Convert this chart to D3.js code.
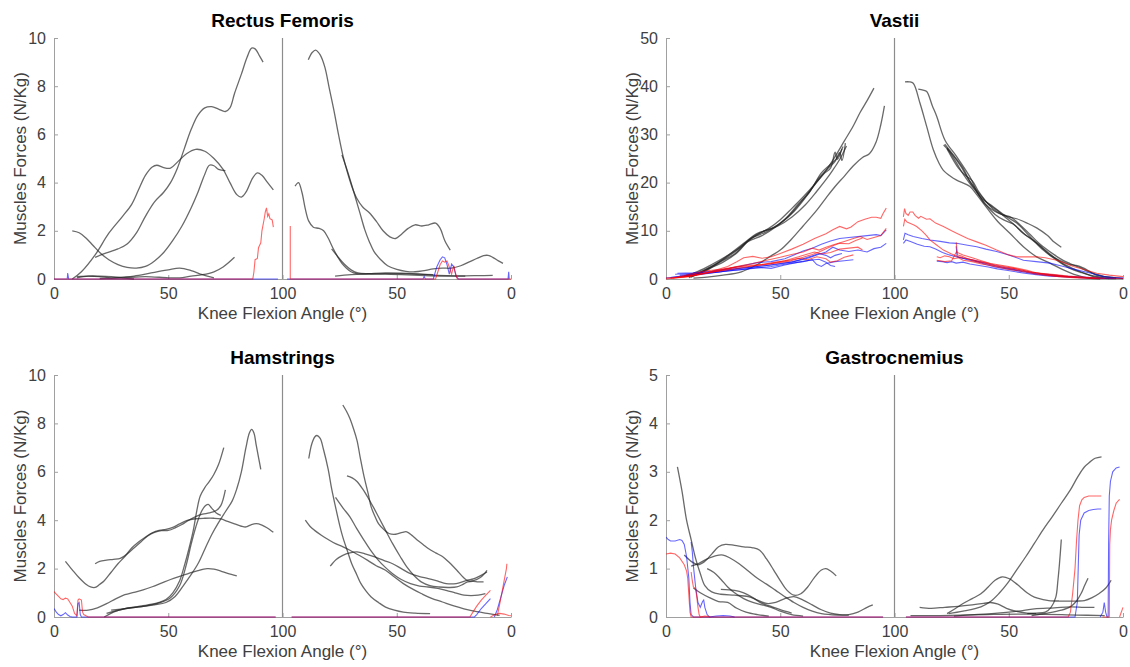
<!DOCTYPE html>
<html>
<head>
<meta charset="utf-8">
<script src="https://cdn.jsdelivr.net/npm/d3@7"></script>
<style>
  html, body { margin: 0; padding: 0; background: #fff; }
  svg { display: block; font-family: "Liberation Sans", Arial, Helvetica, sans-serif; }
</style>
</head>
<body>
<svg id="chart" width="1130" height="667"></svg>
<script>
// Knee flexion angle axis: left half = flexion (0 -> 100), right half = extension (100 -> 0)
const xTicks = [0, 50, 100, 150, 200];
const xTickLabels = ["0", "50", "100", "50", "0"];
const xLabel = "Knee Flexion Angle (°)";
const yLabel = "Muscles Forces (N/Kg)";

const titles = ["Rectus Femoris", "Vastii", "Hamstrings", "Gastrocnemius"];
const yMax = [10, 50, 10, 5];
const yTicks = [
  [0, 2, 4, 6, 8, 10],
  [0, 10, 20, 30, 40, 50],
  [0, 2, 4, 6, 8, 10],
  [0, 1, 2, 3, 4, 5]
];

// Each trace: side "L" (flexion, left half) or "R" (extension, right half); points are [angle, force]
const rectusBlack = [
  {side: "L", pts: [[8,0],[12,0.3],[18,1.0],[24,1.9],[30,2.6],[34,3.1],[37,3.7],[40,4.3],[43,4.65],[45,4.72],[48,4.62],[51,4.6],[54,4.85],[58,5.2],[62,5.38],[66,5.3],[70,5.0],[74,4.55],[77,4.0],[80,3.5],[82,3.4],[84,3.6],[87,4.2],[89,4.4],[91,4.3],[93.5,4.0],[96,3.7]]},
  {side: "L", pts: [[18,0.9],[22,1.05],[28,1.25],[32,1.45],[36,1.9],[40,2.6],[44,3.2],[48,3.6],[51,4.0],[54,4.6],[57,5.4],[60,6.2],[63,6.8],[66,7.1],[69,7.15],[72,7.05],[75,6.95],[77,7.1],[79,7.7],[82,8.5],[84.5,9.2],[86.5,9.58],[88,9.55],[90,9.25],[91.5,9.0]]},
  {side: "L", pts: [[8,2.0],[11,1.92],[14,1.7],[17,1.4],[20,1.1],[24,0.8],[28,0.6],[32,0.48],[36,0.45],[40,0.52],[44,0.75],[48,1.1],[52,1.6],[56,2.2],[60,2.95],[63,3.6],[66,4.35],[68,4.72],[70,4.7],[72,4.55],[75,4.5]]},
  {side: "L", pts: [[10,0.1],[15,0.12],[20,0.1],[25,0.05],[30,0.08],[35,0.12],[40,0.2],[45,0.3],[50,0.38],[55,0.45],[60,0.35],[65,0.18],[70,0.05]]},
  {side: "L", pts: [[20,0.02],[30,0.05],[40,0.1],[50,0.05],[55,0.05],[60,0.12],[65,0.18],[70,0.3],[74,0.5],[79,0.9]]},
  {side: "L", pts: [[10,0.05],[15,0.12],[20,0.12],[25,0.1],[30,0.05],[35,0.0]]},
  {side: "R", pts: [[88.7,9.1],[87,9.4],[85.5,9.5],[83.5,9.3],[81.5,8.8],[79.5,7.9],[77.5,7.0],[75.5,6.0],[73.5,5.1],[71.5,4.4],[69.5,3.8],[67.5,3.35],[65,3.0],[62,2.75],[59,2.4],[56,2.0],[53,1.75],[50.5,1.68],[48,1.85],[45,2.1],[42,2.25],[39,2.2],[36,2.25],[33,2.32],[31,2.1],[29,1.6],[26.6,1.2]]},
  {side: "R", pts: [[74,5.15],[72,4.6],[70,4.0],[68,3.35],[66,2.7],[64,2.05],[62,1.55],[60,1.15],[57,0.8],[54,0.55],[50,0.4],[46,0.32],[42,0.3],[38,0.35],[34,0.42],[30,0.45],[26,0.45],[22,0.55],[18,0.72],[15,0.85],[12,0.97],[10,0.98],[8,0.9],[5.5,0.75],[3.5,0.65]]},
  {side: "R", pts: [[94.5,3.85],[93,4.0],[91.5,3.6],[90,2.9],[88.5,2.4],[86.5,2.15],[84,2.1],[82,2.0],[80,1.7],[78,1.3],[76,0.95],[74,0.65],[72,0.45],[70,0.3],[67.6,0.22],[62,0.2],[55,0.22],[48,0.22],[40,0.2],[34,0.18]]},
  {side: "R", pts: [[78.5,1.25],[76,0.95],[73,0.62],[70,0.38],[67,0.25],[62,0.22],[55,0.2],[48,0.18],[40,0.15],[30,0.12],[20,0.12]]},
  {side: "R", pts: [[77,0.12],[70,0.18],[62,0.22],[55,0.25],[48,0.24],[40,0.2],[32,0.15],[24,0.13],[14,0.14],[8,0.15]]}
];
const rectusBlue = [
  {side: "L", pts: [[0,0],[5.8,0],[6,0.25],[6.4,0],[98,0]]},
  {side: "R", pts: [[98,0],[38.5,0],[38,0.1],[37.5,0],[34,0],[32.5,0.5],[31,0.8],[30,0.92],[29,0.88],[28,0.6],[27,0.2],[26.5,0.4],[26,0.62],[25,0.5],[24,0.1],[23,0],[1.3,0],[1,0.3],[0.8,0]]}
];
const rectusRed = [
  {side: "L", pts: [[0,0],[87,0],[87.5,0.3],[88,0.8],[89,0.85],[89.5,1.3],[90.5,1.5],[91,2.0],[92,2.5],[92.5,2.8],[93,2.95],[93.5,2.6],[94,2.7],[94.5,2.5],[95.5,2.45],[96,2.15]]},
  {side: "R", pts: [[96.6,2.2],[96.6,0],[33,0],[32,0.3],[31,0.6],[30,0.75],[29,0.7],[28,0.75],[27,0.5],[26,0.2],[25.5,0.4],[25,0.55],[24.5,0.3],[23.5,0],[0,0]]}
];

const vastiiBlack = [
  {side: "L", pts: [[10,0.5],[15,1.3],[20,2.6],[25,4.0],[30,5.6],[35,7.6],[40,9.2],[45,10.5],[50,12.3],[55,14.6],[60,17.0],[65,19.6],[70,22.5],[74,25.4],[78,28.6],[82,31.8],[85,34.6],[88,37.0],[91,39.6]]},
  {side: "L", pts: [[12,0.2],[18,0.4],[25,0.8],[33,1.5],[40,3.0],[46,4.8],[50,6.0],[55,8.3],[60,11.0],[66,14.3],[70,16.8],[74,19.2],[78,21.3],[82,23.5],[86,25.2],[89,26.0],[92,28.5],[94,32.0],[95.6,35.9]]},
  {side: "L", pts: [[8,0.6],[14,1.6],[20,3.0],[26,4.6],[32,6.4],[38,8.6],[44,9.8],[50,11.5],[56,14.0],[62,17.5],[67,21.0],[71,23.0],[74,24.4],[76,26.2],[77,24.6],[78.5,28.2]]},
  {side: "L", pts: [[9,0.5],[15,1.5],[22,3.2],[28,5.2],[34,7.4],[40,9.5],[46,10.4],[52,12.4],[58,15.6],[63,18.2],[68,22.0],[72,23.8],[75,25.2],[77.5,27.5]]},
  {side: "L", pts: [[10,0.3],[17,1.6],[24,3.6],[30,5.2],[36,7.8],[42,9.0],[48,10.8],[54,13.2],[60,16.5],[65,19.5],[69,21.8],[72,23.0],[74,26.3],[75,24.8],[77,27.0]]},
  {side: "L", pts: [[11,0.4],[18,2.0],[25,3.5],[31,5.4],[37,8.4],[43,10.0],[49,11.0],[55,12.8],[61,15.4],[66,18.2],[70,20.6],[73,22.6],[76,24.8],[79,27.6]]},
  {side: "R", pts: [[95.4,40.9],[93.5,40.9],[91.8,40.6],[88.8,36.4],[85.9,31.6],[83,26.8],[80.5,24.0],[78.7,22.6],[75.5,21.3],[72.8,20.5],[67,19.2],[64,17.5],[61.1,15.7],[55.3,12.2],[49.5,9.5],[43.6,6.7],[37.8,4.6],[32,3.3],[26.1,1.9],[20.3,0.8],[14.4,0.15],[10,0.05]]},
  {side: "R", pts: [[89.6,39.4],[87.5,39.2],[85.9,38.9],[83.5,36],[81.5,33.7],[77.9,28.8],[72.8,25.4],[67,21.2],[62.6,17.1],[56.8,15.0],[50.9,12.9],[46.5,11.6],[40.7,8.8],[34.9,6.0],[29,3.9],[23.2,2.2],[18,1.3],[14.4,0.8],[10,0.4],[6,0.1]]},
  {side: "R", pts: [[78,28],[74,25.6],[70,23.0],[67,20.2],[63,17.4],[60.7,15.7],[56,14.0],[51,13.0],[46.5,12.5],[42,11.6],[37.8,10.6],[33,9.0],[30,7.6],[27,6.6]]},
  {side: "R", pts: [[77,27.2],[73,24.2],[70,21.8],[67,19.8],[64,18.0],[60,15.4],[56,13.4],[52,12.2],[48,11.4],[44,9.6],[40,8.2],[36,6.7],[32,5.0],[28,3.9],[23.2,3.0],[20,2.8],[17.4,2.3],[14,1.4],[11.6,0.8],[8,0.5],[4,0.3],[0,0.1]]},
  {side: "R", pts: [[78.5,27.8],[75,26.0],[71,23.4],[68,21.0],[65,19.0],[61,16.6],[57,14.6],[53,13.4],[49,12.8],[45,11.2],[41,9.4],[37,7.5],[34.9,6.7],[30,5.0],[26,3.8],[23.2,3.2],[19,2.4],[15,1.5],[11,0.9],[7,0.4],[3,0.2]]},
  {side: "R", pts: [[77,27.0],[72,23.0],[69,21.5],[66,20.4],[63,18.0],[59,15.6],[55,14.2],[51,12.6],[47,11.0],[43,9.3],[39,8.0],[35,6.4],[31,4.8],[27,3.4],[23,2.4],[18,1.4],[13,0.5],[9,0.2],[3,0.1]]}
];
const vastiiBlue = [
  {side: "L", pts: [[5,1.2],[12,1.3],[20,1.6],[28,2.2],[34,2.8],[40,3.4],[46,3.6],[52,4.2],[56,5.0],[60,5.8],[64,6.4],[68,7.2],[72,7.9],[76,8.4],[80,8.6],[84,8.8],[88,9.0],[92,9.2],[94,9.0],[96.4,10.2]]},
  {side: "L", pts: [[4,1.0],[12,1.2],[20,1.5],[28,2.0],[36,2.4],[44,2.8],[50,3.2],[56,3.6],[62,4.3],[66,5.0],[70,5.6],[73,6.6],[76,6.0],[80,5.7],[84,6.0],[88,5.6],[91,6.3],[94,6.6],[96.4,7.4]]},
  {side: "L", pts: [[6,0.8],[14,1.1],[22,1.4],[30,1.8],[38,2.2],[46,2.6],[54,3.2],[60,3.6],[64,4.0],[66,3.0],[68,2.6],[70,3.2],[74,3.6],[78,3.8],[82,4.0]]},
  {side: "L", pts: [[0,0.2],[8,0.6],[16,1.0],[24,1.5],[32,2.2],[40,2.6],[48,3.0],[55,3.5],[60,4.2],[64,4.8],[67,5.3],[70,4.9],[72,4.4],[74,4.9],[77,5.3]]},
  {side: "L", pts: [[2,0.3],[10,0.8],[18,1.2],[26,1.6],[34,2.0],[40,2.4],[46,2.2],[52,2.9],[58,3.5],[63,3.9],[67,4.1],[70,3.5],[72,2.8],[74,2.6]]},
  {side: "R", pts: [[96.1,8.1],[95.4,9.5],[94,9.2],[91.8,8.8],[88,8.4],[84.5,8.1],[80,7.8],[76,7.5],[72.8,7.4],[68,7.0],[64,6.7],[60,6.2],[55.3,5.7],[50,5.0],[43.6,3.9],[38,3.6],[32,3.3],[26,2.6],[20.3,1.9],[14,1.2],[8.6,0.5],[4,0.3],[0,0.2]]},
  {side: "R", pts: [[96.1,7.4],[95,8.1],[93,7.8],[90,7.2],[87,6.8],[84.5,6.7],[82,6.2],[79,5.5],[76,5.0],[73,4.6],[70,4.3],[66,4.0],[62,3.5],[58,3.0],[54,2.6],[50,2.2],[46,1.8],[42,1.5],[38,1.2],[32,0.9],[26,0.6],[18,0.4],[10,0.2],[0,0.1]]},
  {side: "R", pts: [[81.5,3.7],[79,3.6],[77,3.4],[75,3.6],[73,3.3],[70,3.5],[67,3.1],[63,2.8],[59,2.5],[55,2.1],[51,1.8],[47,1.5],[43,1.2],[38,0.9],[32,0.6],[24,0.4],[16,0.2],[8,0.1]]},
  {side: "R", pts: [[73,6.8],[72.6,4.6],[71,4.4],[68,4.0],[64,3.6],[60,3.0],[56,2.5],[52,2.2],[48,1.9],[44,1.5],[40,1.2],[35,0.9],[28,0.6],[20,0.3],[12,0.15],[4,0.1]]}
];
const vastiiRed = [
  {side: "L", pts: [[0,0.2],[8,0.4],[14,0.9],[20,1.6],[27,2.6],[31,3.6],[34,4.4],[38,4.7],[42,4.3],[46,4.6],[50,5.3],[55,6.2],[60,7.2],[65,8.4],[70,9.4],[73,10.2],[76,10.9],[79,10.4],[81,10.8],[84,11.9],[87,12.4],[90,12.8],[92,12.8],[94,12.6],[95,13.6],[96.4,14.7]]},
  {side: "L", pts: [[2,0.1],[10,0.5],[18,1.2],[25,1.9],[32,2.7],[38,3.2],[44,3.9],[50,4.5],[55,5.1],[60,5.6],[64,6.4],[67,6.0],[70,6.6],[74,7.2],[78,7.8],[82,8.4],[85,8.8],[88,8.2],[91,8.6],[94,9.0],[96.4,10.5]]},
  {side: "L", pts: [[5,0.3],[12,0.8],[20,1.5],[28,2.2],[35,2.8],[42,3.0],[48,3.5],[54,3.9],[58,4.3],[62,4.0],[66,4.6],[70,4.2],[72,3.5],[75,3.8],[78,4.5],[82,5.0]]},
  {side: "L", pts: [[0,0],[10,0.6],[18,1.3],[26,1.8],[34,2.4],[40,2.9],[46,3.2],[52,3.8],[58,4.6],[62,5.2],[65,5.6],[68,5.2],[72,5.5],[76,6.2],[80,6.4],[84,6.6],[86,6.0]]},
  {side: "L", pts: [[3,0.2],[10,0.9],[18,1.7],[24,2.0],[30,2.5],[36,2.6],[42,2.9],[48,3.3],[54,3.7],[60,4.5],[64,5.1],[67,5.6],[70,6.3],[73,6.9],[76,7.4],[80,7.3],[83,8.0],[86,8.5]]},
  {side: "R", pts: [[96.1,12.9],[95.6,14.6],[95.0,13.6],[94,13.2],[93.2,13.9],[92,13.9],[91,13.2],[89.5,12.6],[88.5,13.0],[86,12.4],[84.5,12.5],[82,11.6],[78.6,10.9],[75,10.0],[72.8,9.5],[68,8.4],[64,7.7],[60,7.0],[55.3,6.0],[50,5.0],[46.5,4.6],[42,4.6],[37.8,4.6],[34,4.4],[29,3.9],[25,3.2],[21.7,2.6],[16,1.8],[11.5,1.2],[6,0.8],[0,0.5]]},
  {side: "R", pts: [[96.1,10.9],[95.5,12.4],[94.5,11.8],[93,11.5],[91.5,11.2],[90.3,10.9],[88,10.0],[86,9.0],[84.5,8.1],[82,7.2],[78.6,6.0],[75,5.2],[72,4.6],[68,4.2],[64,3.6],[60,3.2],[56,2.7],[52,2.4],[48,2.2],[44,1.8],[40,1.4],[36,1.2],[30,0.9],[24,0.6],[18,0.4],[10,0.2],[0,0.1]]},
  {side: "R", pts: [[81.5,4.6],[80,4.4],[78,4.8],[76,4.6],[74,4.2],[72,4.4],[70,3.9],[66,3.6],[62,3.1],[58,2.8],[54,2.4],[50,2.0],[46,1.7],[42,1.4],[38,1.0],[32,0.7],[26,0.5],[20,0.3],[12,0.1]]},
  {side: "R", pts: [[81.5,3.9],[78,3.6],[75,3.8],[72.8,5.7],[72.3,5.0],[71,4.8],[68,4.2],[64,3.8],[60,3.4],[56,2.9],[52,2.6],[48,2.2],[44,1.8],[40,1.4],[35,1.1],[30,0.8],[24,0.5],[16,0.3],[8,0.1]]},
  {side: "R", pts: [[73,7.6],[72.5,5.5],[70,5.0],[66,4.4],[62,3.8],[58,3.2],[54,2.9],[50,2.6],[46,2.2],[42,1.8],[38,1.3],[34,0.9],[28,0.5],[20,0.2],[10,0.05]]}
];

const hamBlack = [
  {side: "L", pts: [[5,2.3],[8,1.95],[11,1.62],[14,1.35],[16,1.24],[18,1.22],[20,1.35],[22,1.5],[25,1.85],[28,2.2],[31,2.5],[34,2.85],[37,3.1],[40,3.3],[43,3.48],[46,3.58],[49,3.62],[52,3.7],[55,3.85],[58,3.98],[62,4.06],[66,4.08],[70,4.08],[73,4.05],[76,3.95],[79,3.85],[82,3.75],[84,3.72],[86,3.8],[88.5,3.86],[91,3.8],[93,3.7],[96,3.5]]},
  {side: "L", pts: [[18,2.2],[20,2.3],[23,2.35],[26,2.38],[29,2.42],[32,2.6],[35,2.85],[38,3.1],[41,3.35],[44,3.5],[47,3.57],[50,3.58],[53,3.68],[56,3.82],[59,4.0],[62,4.15],[65,4.25],[68,4.3],[71,4.4],[73,4.6],[75,5.25]]},
  {side: "L", pts: [[11,0.28],[15,0.28],[19,0.38],[23,0.55],[27,0.75],[31,0.92],[35,1.02],[39,1.12],[43,1.25],[47,1.4],[51,1.55],[55,1.68],[59,1.8],[63,1.92],[67,2.0],[70,1.98],[73,1.9],[76,1.8],[80,1.7]]},
  {side: "L", pts: [[22,0],[26,0.2],[31,0.35],[36,0.42],[41,0.5],[46,0.6],[49,0.72],[52,1.0],[55,1.5],[57,2.1],[59,2.8],[61,3.6],[62.5,4.4],[64,5.0],[66,5.35],[68,5.6],[70,5.9],[72,6.3],[74.3,7.0]]},
  {side: "L", pts: [[23,0.15],[30,0.32],[37,0.42],[44,0.5],[49,0.6],[53,0.85],[57,1.35],[60,1.75],[63,2.2],[66,2.8],[69,3.4],[72,3.9],[75,4.35],[78,4.8],[80,5.3],[82,6.0],[84,7.0],[85.5,7.6],[86.5,7.75],[87.5,7.6],[88.5,7.1],[89.5,6.6],[90.5,6.1]]},
  {side: "L", pts: [[25,0.28],[32,0.36],[40,0.45],[46,0.58],[51,0.8],[55,1.3],[58,2.2],[60,3.0],[62,3.7],[64,4.25],[66,4.58],[67.5,4.65],[69,4.5],[71,4.3],[73,4.2]]},
  {side: "R", pts: [[88.5,6.55],[87.2,7.15],[85.8,7.45],[84.9,7.5],[83.5,7.38],[82,6.9],[80,6.1],[78.5,5.3],[76.8,4.55],[75,3.8],[73.6,3.3],[71.5,2.7],[69.7,2.2],[67.5,1.75],[65.8,1.4],[63.5,1.08],[61.2,0.83],[58,0.6],[54.9,0.41],[51,0.28],[47.1,0.2],[42,0.16],[35.4,0.14]]},
  {side: "R", pts: [[73.6,8.76],[72,8.5],[70.5,8.2],[69,7.8],[67.4,7.3],[66,6.6],[64.3,5.8],[62.5,5.1],[61.2,4.55],[59.5,4.15],[58,3.86],[55.5,3.6],[53.4,3.45],[50.5,3.42],[47.5,3.5],[45.6,3.52],[43,3.35],[40.9,3.17],[38.5,3.0],[36.2,2.83],[33,2.65],[30,2.5],[27,2.25],[23.7,1.93],[21,1.65],[19,1.5],[16.5,1.5],[13.6,1.62],[12,1.75],[10.5,1.93]]},
  {side: "R", pts: [[71.8,5.83],[69.5,5.75],[67.4,5.6],[65,5.3],[62.7,4.95],[60,4.5],[58,4.14],[55,3.6],[51.8,3.03],[48.5,2.5],[45.6,2.07],[42.5,1.72],[39.3,1.45],[35.5,1.3],[31.5,1.24],[27.5,1.22],[23.7,1.24],[21,1.35],[19,1.45],[16.5,1.47],[14.4,1.45],[12,1.45]]},
  {side: "R", pts: [[76.8,4.94],[73.5,4.5],[70.5,4.14],[67.5,3.65],[64.3,3.17],[61,2.7],[58,2.34],[55,2.05],[51.8,1.79],[48,1.55],[44,1.38],[40,1.28],[36.2,1.24],[32,1.18],[28.4,1.1],[24.5,1.0],[20.6,0.9],[17.5,0.88],[14.4,0.9],[11.2,0.97]]},
  {side: "R", pts: [[90,4.0],[88,3.75],[86.1,3.59],[83,3.38],[80,3.2],[76.8,3.03],[73.5,2.9],[70.5,2.76],[66.5,2.55],[62.7,2.34],[59,2.12],[54.9,1.93],[51,1.65],[47.1,1.38],[43,1.15],[39.3,0.97],[35,0.78],[30,0.62],[25,0.46],[20.6,0.34],[15,0.22],[9.7,0.14],[5,0.07]]},
  {side: "R", pts: [[79.1,2.1],[76.5,2.38],[73.6,2.55],[70.5,2.65],[67.4,2.69],[63.5,2.6],[59.6,2.48],[55.5,2.33],[51.8,2.2],[48,2.0],[44,1.79],[40,1.67],[36.2,1.59],[32,1.48],[28.4,1.38],[24,1.38],[19,1.52],[16.5,1.58],[14.4,1.66],[12.5,1.75],[10.5,1.86]]}
];
const hamBlue = [
  {side: "L", pts: [[0,0.35],[1,0.2],[2,0.1],[3,0.05],[4,0.1],[5,0.18],[6,0.08],[7,0.02],[8,0],[10,0],[10.5,0.55],[11,0.6],[11.5,0.1],[12,0],[97,0]]},
  {side: "R", pts: [[96,0],[16,0],[15,0.1],[13,0.35],[11,0.55],[9,0.76]]},
  {side: "R", pts: [[7.3,0],[6,0.3],[4.5,0.8],[3,1.3],[1.6,1.66]]}
];
const hamRed = [
  {side: "L", pts: [[0,1.05],[1,0.95],[2,0.85],[3,0.75],[4,0.72],[5,0.78],[6,0.75],[7,0.6],[8,0.45],[9,0.15],[10,0.05],[10.5,0.7],[11,0.75],[12,0.7],[12.5,0.2],[13,0.1],[14,0.05],[15,0],[97,0]]},
  {side: "R", pts: [[96,0],[18,0],[17,0.15],[15,0.45],[13,0.7],[11,0.9],[9,1.1]]},
  {side: "R", pts: [[6,0.05],[5,0.5],[4,1.0],[3,1.5],[2,2.0],[1.8,2.2]]},
  {side: "R", pts: [[9,0],[7,0.1],[5,0.15],[3,0.12],[1,0.06],[0,0.05]]}
];

const gastroBlack = [
  {side: "L", pts: [[5,3.1],[7,2.6],[9,2.0],[11,1.6],[13,1.2],[15,0.9],[17,0.65],[20,0.52],[24,0.47],[30,0.45],[36,0.42],[40,0.35],[44,0.28],[48,0.3],[52,0.38],[56,0.42],[60,0.35],[64,0.25],[68,0.15],[72,0.08],[76,0.05],[80,0.05],[84,0.1],[88,0.2],[90.5,0.25]]},
  {side: "L", pts: [[8,1.28],[11,1.15],[14,1.08],[17,1.15],[20,1.3],[23,1.45],[26,1.5],[30,1.48],[34,1.45],[38,1.43],[41,1.38],[44,1.2],[47,0.98],[50,0.75],[53,0.55],[56,0.45],[59,0.48],[62,0.62],[65,0.82],[68,0.97],[70,1.0],[72,0.95],[74.5,0.85]]},
  {side: "L", pts: [[11,1.05],[14,1.1],[18,1.2],[22,1.27],[25,1.28],[28,1.22],[32,1.1],[36,0.95],[40,0.8],[44,0.68],[48,0.55],[52,0.42],[56,0.3],[60,0.2],[64,0.12],[68,0.07],[75,0.04],[80,0.04]]},
  {side: "L", pts: [[18,1.0],[21,0.92],[24,0.78],[27,0.62],[30,0.5],[34,0.38],[38,0.3],[42,0.25],[46,0.2],[50,0.12],[55,0.05],[60,0.02]]},
  {side: "L", pts: [[12,0.6],[15,0.5],[19,0.4],[23,0.32],[27,0.3],[31,0.18],[35,0.1],[40,0.05],[45,0.02]]},
  {side: "L", pts: [[24,0.57],[30,0.55],[34,0.5],[38,0.4],[42,0.28],[46,0.22],[50,0.15],[55,0.08]]},
  {side: "R", pts: [[76.3,0.07],[70,0.12],[62.2,0.21],[58,0.32],[54.4,0.48],[50.5,0.7],[46.6,0.97],[42.5,1.25],[38.8,1.52],[35,1.8],[31,2.07],[27,2.35],[23.1,2.62],[20,2.88],[16.9,3.1],[14.5,3.2],[12.2,3.28],[9.4,3.31]]},
  {side: "R", pts: [[77,0.07],[73.5,0.17],[70,0.28],[66,0.38],[62.2,0.48],[59,0.62],[56,0.76],[52.8,0.83],[49.7,0.79],[47,0.7],[45,0.62],[42,0.5],[38.8,0.41],[35,0.36],[32.5,0.34],[28,0.33],[23.1,0.33],[20,0.33],[16.9,0.34],[13.5,0.4],[10.6,0.48],[7.5,0.6],[5.2,0.76]]},
  {side: "R", pts: [[41.9,0.07],[38,0.08],[34,0.1],[31.5,0.2],[29.4,0.41],[28.5,0.75],[27.8,1.1],[27,1.6]]},
  {side: "R", pts: [[40,0.03],[33,0.08],[27,0.14],[23.1,0.21],[20.5,0.32],[18.4,0.48],[16.8,0.65],[15.3,0.8]]},
  {side: "R", pts: [[89,0.2],[84,0.18],[78,0.2],[72,0.22],[66,0.25],[61,0.28],[58,0.3],[55,0.27],[51,0.18],[47,0.12],[42,0.08],[38,0.07]]},
  {side: "R", pts: [[74,0.02],[65,0.05],[55,0.08],[46,0.12],[38.8,0.17],[30,0.19],[23,0.21],[17,0.2],[12.5,0.2]]},
  {side: "R", pts: [[93,0.03],[80,0.03],[60,0.05],[40,0.06],[20,0.04],[8,0.03]]}
];
const gastroBlue = [
  {side: "L", pts: [[0,1.65],[1,1.6],[2,1.57],[4,1.57],[6,1.6],[7,1.58],[8,1.5],[9,1.25],[10,0.8],[10.5,0.3],[11,0.05],[12,0],[95,0]]},
  {side: "L", pts: [[11,1.55],[11.5,1.35],[12,1.05],[13,0.6],[14,0.3],[15,0.2],[16,0.32],[16.5,0.35],[17,0.2],[18,0.05],[19,0],[22,0.02],[25,0.03],[28,0.02],[30,0]]},
  {side: "R", pts: [[95,0],[21,0],[20,0.3],[19.6,1.0],[19.2,1.7],[18.5,2.0],[17,2.15],[15,2.2],[13,2.22],[11,2.23],[9.5,2.23]]},
  {side: "R", pts: [[10,0],[8.8,0.1],[8.2,0.3],[7.6,0.1],[7,0],[6.5,0],[6.3,1.5],[6,2.5],[5.5,2.8],[4.5,3.0],[3,3.08],[1.5,3.1]]}
];
const gastroRed = [
  {side: "L", pts: [[0,1.3],[2,1.32],[4,1.3],[6,1.22],[8,1.08],[9,0.95],[9.5,0.8],[10,0.45],[10.5,0.1],[11,0],[95,0]]},
  {side: "L", pts: [[11,0.93],[11.5,0.75],[12,0.62],[13,0.58],[13.5,0.4],[14,0.2],[14.5,0.05],[15,0],[17,0.02],[19,0.01]]},
  {side: "R", pts: [[95,0],[24,0],[23,0.1],[22,0.5],[21,1.0],[20.3,1.6],[19.7,2.0],[19,2.3],[18,2.42],[17,2.47],[15,2.5],[13,2.5],[11,2.5],[9.5,2.5]]},
  {side: "R", pts: [[9,0],[6,0],[5.8,1.5],[5.5,1.8],[5,2.0],[4,2.2],[3,2.35],[1.5,2.43]]},
  {side: "R", pts: [[1.5,0],[0,0.2]]}
];

const panelBlack = [rectusBlack, vastiiBlack, hamBlack, gastroBlack];
const panelBlue = [rectusBlue, vastiiBlue, hamBlue, gastroBlue];
const panelRed = [rectusRed, vastiiRed, hamRed, gastroRed];

// Plot frames (left, right, top, bottom) for the 2x2 grid
const frames = [
  {x0: 54, x1: 511, yT: 38, yB: 279},
  {x0: 666, x1: 1123, yT: 38, yB: 279},
  {x0: 54, x1: 511, yT: 375, yB: 617},
  {x0: 666, x1: 1123, yT: 375, yB: 617}
];

const svg = d3.select("#chart");
const axisGray = "#a0a0a0";
const textGray = "#404040";

frames.forEach((f, i) => {
  const g = svg.append("g");
  const x = d3.scaleLinear().domain([0, 200]).range([f.x0, f.x1]);
  const y = d3.scaleLinear().domain([0, yMax[i]]).range([f.yB, f.yT]);
  const pos = (side, a) => side === "L" ? x(a) : x(200 - a);

  // x axis (ticks pointing inward)
  const xAxis = d3.axisBottom(x).tickValues(xTicks)
    .tickFormat((d, k) => xTickLabels[k]).tickSizeInner(-4).tickSizeOuter(0).tickPadding(9);
  const gx = g.append("g").attr("transform", `translate(0,${f.yB})`).call(xAxis);
  gx.select(".domain").attr("stroke", axisGray);
  gx.selectAll(".tick line").attr("stroke", axisGray);
  gx.selectAll("text").attr("fill", textGray).style("font-size", "16px");

  // y axis
  const yAxis = d3.axisLeft(y).tickValues(yTicks[i]).tickFormat(d3.format("d"))
    .tickSizeInner(-4).tickSizeOuter(0).tickPadding(8);
  const gy = g.append("g").attr("transform", `translate(${f.x0},0)`).call(yAxis);
  gy.select(".domain").attr("stroke", axisGray);
  gy.selectAll(".tick line").attr("stroke", axisGray);
  gy.selectAll("text").attr("fill", textGray).style("font-size", "16px");

  // divider between flexion and extension
  g.append("line")
    .attr("x1", x(100)).attr("x2", x(100))
    .attr("y1", y(0)).attr("y2", y(yMax[i]))
    .attr("stroke", "#8c8c8c").attr("stroke-width", 1.2);

  const smooth = d3.line().x(p => p[0]).y(p => p[1]).curve(d3.curveCatmullRom.alpha(0.5));
  const jagged = d3.line().x(p => p[0]).y(p => p[1]);
  const toXY = tr => tr.pts.map(p => [pos(tr.side, p[0]), y(p[1])]);

  const clipId = "clip" + i;
  svg.append("clipPath").attr("id", clipId).append("rect")
    .attr("x", f.x0).attr("y", f.yT - 2).attr("width", f.x1 - f.x0 + 2).attr("height", f.yB - f.yT + 4);
  const plot = g.append("g").attr("clip-path", `url(#${clipId})`);

  plot.selectAll("path.blk").data(panelBlack[i]).join("path").attr("class", "blk")
    .attr("d", tr => smooth(toXY(tr)))
    .attr("fill", "none").attr("stroke", "#222").attr("stroke-opacity", 0.68).attr("stroke-width", 1.3);
  plot.selectAll("path.blu").data(panelBlue[i]).join("path").attr("class", "blu")
    .attr("d", tr => jagged(toXY(tr)))
    .attr("fill", "none").attr("stroke", "#0000ff").attr("stroke-opacity", 0.6).attr("stroke-width", 1.1);
  plot.selectAll("path.red").data(panelRed[i]).join("path").attr("class", "red")
    .attr("d", tr => jagged(toXY(tr)))
    .attr("fill", "none").attr("stroke", "#ff0000").attr("stroke-opacity", 0.6).attr("stroke-width", 1.1);

  // title
  g.append("text").attr("x", x(100)).attr("y", f.yT - 11)
    .attr("text-anchor", "middle").attr("font-weight", "bold").attr("font-size", 19)
    .attr("fill", "#000").text(titles[i]);
  // x label
  g.append("text").attr("x", x(100)).attr("y", f.yB + 40)
    .attr("text-anchor", "middle").attr("font-size", 17).attr("fill", textGray).text(xLabel);
  // y label
  g.append("text")
    .attr("transform", `translate(${f.x0 - 28},${(f.yT + f.yB) / 2}) rotate(-90)`)
    .attr("text-anchor", "middle").attr("font-size", 17).attr("fill", textGray).text(yLabel);
});
</script>
</body>
</html>
